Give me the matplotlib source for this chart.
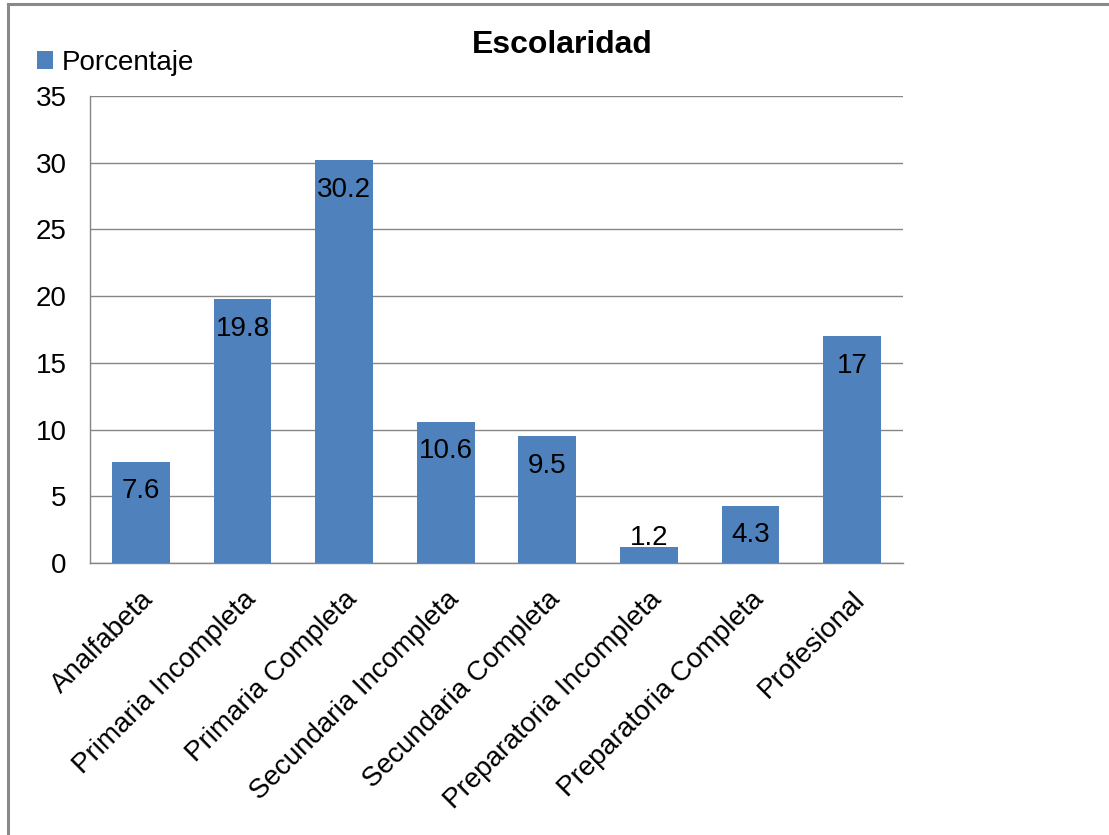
import matplotlib
matplotlib.use("Agg")
import matplotlib.pyplot as plt
from matplotlib.lines import Line2D

plt.rcParams['font.family'] = ['Liberation Sans', 'DejaVu Sans']

categorias = ["Analfabeta", "Primaria Incompleta", "Primaria Completa",
              "Secundaria Incompleta", "Secundaria Completa",
              "Preparatoria Incompleta", "Preparatoria Completa", "Profesional"]
porcentaje = [7.6, 19.8, 30.2, 10.6, 9.5, 1.2, 4.3, 17]
yticks = [0, 5, 10, 15, 20, 25, 30, 35]

azul = "#4F81BD"
gris = "#868686"
fs = 20

fig = plt.figure(figsize=(11.09, 8.35), dpi=100)
ax = fig.add_axes([0.0812, 0.3257, 0.7330, 0.5593])

x = list(range(len(categorias)))
barras = ax.bar(x, porcentaje, width=0.57, color=azul, label="Porcentaje", zorder=3)

ax.set_xlim(-0.5, len(categorias) - 0.5)
ax.set_ylim(0, 35)
ax.set_yticks(yticks)
ax.yaxis.grid(True, color=gris, linewidth=1, zorder=0)
ax.set_axisbelow(True)
for s in ["top", "right"]:
    ax.spines[s].set_visible(False)
for s in ["left", "bottom"]:
    ax.spines[s].set_color(gris)
    ax.spines[s].set_linewidth(1)
ax.tick_params(axis="y", length=0, pad=17, labelsize=fs)
ax.tick_params(axis="x", length=0, pad=17, labelsize=fs)
ax.set_xticks(x)
ax.set_xticklabels(categorias, rotation=45, ha="right", rotation_mode="anchor")

# etiquetas de valor dentro de cada barra (o encima si no cabe)
for xi, v in zip(x, porcentaje):
    if v < 3:
        ax.annotate(f"{v:g}", (xi, v), xytext=(0, -3), textcoords="offset points",
                    ha="center", va="bottom", fontsize=fs)
    else:
        ax.annotate(f"{v:g}", (xi, v), xytext=(0, -12), textcoords="offset points",
                    ha="center", va="top", fontsize=fs)

fig.text(0.507, 0.946, "Escolaridad", ha="center", va="center",
         fontsize=23, fontweight="bold")

fig.legend(handles=[barras], labels=["Porcentaje"], loc="center left",
           bbox_to_anchor=(0.033, 0.925), frameon=False, fontsize=fs,
           handlelength=0.6, handleheight=0.6, handletextpad=0.3,
           borderaxespad=0, borderpad=0)

# marco gris del area del grafico
fig.add_artist(Line2D([8 / 1109, 8 / 1109], [0, 1 - 4 / 835],
                      transform=fig.transFigure, color="#8a8a8a", linewidth=2.2))
fig.add_artist(Line2D([8 / 1109, 1], [1 - 4 / 835, 1 - 4 / 835],
                      transform=fig.transFigure, color="#8a8a8a", linewidth=2.2))

fig.savefig("out.png", dpi=100)
